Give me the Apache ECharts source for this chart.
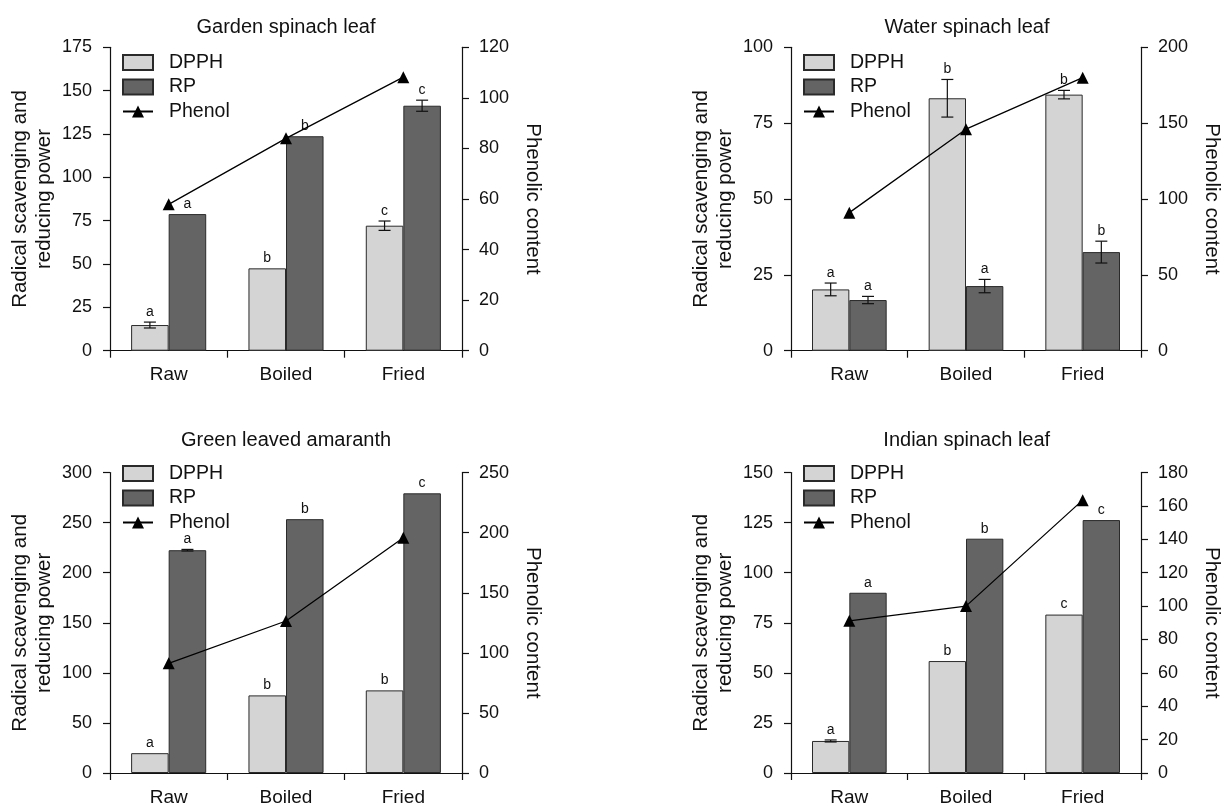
<!DOCTYPE html>
<html>
<head>
<meta charset="utf-8">
<script src="https://cdn.jsdelivr.net/npm/echarts@6/dist/echarts.min.js"></script>
<style>
html,body{margin:0;padding:0;background:#fff;}
#chart{width:1223px;height:807px;}
</style>
</head>
<body>
<div id="chart"></div>
<script>
// ---------- data ----------
const categories = ['Raw', 'Boiled', 'Fried'];
const panelTitles = ['Garden spinach leaf', 'Water spinach leaf', 'Green leaved amaranth', 'Indian spinach leaf'];
const seriesNames = ['DPPH', 'RP', 'Phenol'];

const gardenDPPH = [14.8, 47.5, 72.1];
const gardenDPPHErr = [1.7, 0, 2.7];
const gardenRP = [78.8, 123.7, 141.3];
const gardenRPErr = [0, 0, 3.2];
const gardenPhenol = [57.9, 84.0, 108.2];
const gardenDPPHLetters = ['a', 'b', 'c'];
const gardenRPLetters = ['a', 'b', 'c'];

const waterDPPH = [20.2, 83.2, 84.4];
const waterDPPHErr = [2.1, 6.2, 1.4];
const waterRP = [16.7, 21.3, 32.5];
const waterRPErr = [1.2, 2.2, 3.6];
const waterPhenol = [91.0, 146.0, 180.0];
const waterDPPHLetters = ['a', 'b', 'b'];
const waterRPLetters = ['a', 'a', 'b'];

const amaranthDPPH = [19.8, 77.5, 82.5];
const amaranthDPPHErr = [0, 0, 0];
const amaranthRP = [222.5, 253.5, 279.3];
const amaranthRPErr = [0.8, 0, 0];
const amaranthPhenol = [91.3, 126.5, 195.8];
const amaranthDPPHLetters = ['a', 'b', 'b'];
const amaranthRPLetters = ['a', 'b', 'c'];

const indianDPPH = [16.0, 55.9, 79.1];
const indianDPPHErr = [0.5, 0, 0];
const indianRP = [90.0, 117.0, 126.3];
const indianRPErr = [0, 0, 0];
const indianPhenol = [91.2, 100.0, 163.5];
const indianDPPHLetters = ['a', 'b', 'c'];
const indianRPLetters = ['a', 'b', 'c'];

// axis scales [max, interval]
const leftAxisMax = [175, 100, 300, 150];
const leftAxisInterval = [25, 25, 50, 25];
const rightAxisMax = [120, 200, 250, 180];
const rightAxisInterval = [20, 50, 50, 20];

const panels = [
  {dpph: gardenDPPH, dErr: gardenDPPHErr, rp: gardenRP, rErr: gardenRPErr, ph: gardenPhenol, dL: gardenDPPHLetters, rL: gardenRPLetters},
  {dpph: waterDPPH, dErr: waterDPPHErr, rp: waterRP, rErr: waterRPErr, ph: waterPhenol, dL: waterDPPHLetters, rL: waterRPLetters},
  {dpph: amaranthDPPH, dErr: amaranthDPPHErr, rp: amaranthRP, rErr: amaranthRPErr, ph: amaranthPhenol, dL: amaranthDPPHLetters, rL: amaranthRPLetters},
  {dpph: indianDPPH, dErr: indianDPPHErr, rp: indianRP, rErr: indianRPErr, ph: indianPhenol, dL: indianDPPHLetters, rL: indianRPLetters}
];

// ---------- layout / style ----------
const FONT = '"Liberation Sans", Arial, Helvetica, sans-serif';
const INK = '#111';
const gridBoxes = [
  {left: 110, top: 47.3, width: 352, height: 303.4},
  {left: 791, top: 47.3, width: 352, height: 303.4},
  {left: 110, top: 472.6, width: 352, height: 301.8},
  {left: 791, top: 472.6, width: 351.5, height: 301.8}
];
const titleY = [17.5, 17.5, 430, 430];
const legendTop = [52.5, 52.5, 463.5, 463.5];
const BAR_GAP_CAT = 0.36;
const DPPH_COLOR = '#d4d4d4';
const RP_COLOR = '#646464';

function errRenderer(values, errs, letters, side) {
  return function (params, api) {
    const i = params.dataIndex;
    const v = values[i], e = errs[i];
    const band = api.size([1, 0])[0];
    const bw = band * (1 - BAR_GAP_CAT) / 2;
    const c = api.coord([i, v]);
    const x = c[0] + side * bw / 2;
    const yTop = api.coord([i, v + e])[1];
    const yBot = api.coord([i, v - e])[1];
    const children = [];
    const ls = {stroke: INK, lineWidth: 1.2};
    if (e > 0) {
      children.push({type: 'line', shape: {x1: x, y1: yTop, x2: x, y2: yBot}, style: ls});
      children.push({type: 'line', shape: {x1: x - 6, y1: yTop, x2: x + 6, y2: yTop}, style: ls});
      children.push({type: 'line', shape: {x1: x - 6, y1: yBot, x2: x + 6, y2: yBot}, style: ls});
    }
    children.push({type: 'text', style: {x: x, y: yTop - 3, text: letters[i], fill: INK,
      font: '14px ' + FONT, textAlign: 'center', textVerticalAlign: 'bottom', align: 'center', verticalAlign: 'bottom'}});
    return {type: 'group', children: children};
  };
}

const option = {
  animation: false,
  backgroundColor: '#fff',
  textStyle: {fontFamily: FONT, color: INK},
  title: [], grid: [], xAxis: [], yAxis: [], legend: [], series: []
};

panels.forEach(function (p, g) {
  const gb = gridBoxes[g];
  option.title.push({
    text: panelTitles[g], left: gb.left + gb.width / 2, top: titleY[g], textAlign: 'center', padding: 0,
    textStyle: {fontFamily: FONT, fontSize: 20, fontWeight: 'normal', color: INK}
  });
  option.grid.push({left: gb.left, top: gb.top, width: gb.width, height: gb.height, containLabel: false});
  option.xAxis.push({
    type: 'category', gridIndex: g, data: categories,
    axisLine: {lineStyle: {color: INK, width: 1.2}},
    axisTick: {show: true, length: 7, lineStyle: {color: INK, width: 1.2}},
    axisLabel: {fontFamily: FONT, fontSize: 19, color: INK, margin: 15},
    splitLine: {show: false}
  });
  option.yAxis.push({
    type: 'value', gridIndex: g, position: 'left', min: 0, max: leftAxisMax[g], interval: leftAxisInterval[g],
    name: 'Radical scavenging and\nreducing power', nameLocation: 'middle', nameGap: 54,
    nameTextStyle: {fontFamily: FONT, fontSize: 20.5, color: INK, lineHeight: 24},
    axisLine: {show: true, lineStyle: {color: INK, width: 1.2}},
    axisTick: {show: true, length: 7, lineStyle: {color: INK, width: 1.2}},
    axisLabel: {fontFamily: FONT, fontSize: 18, color: INK, margin: 18},
    splitLine: {show: false}
  });
  option.yAxis.push({
    type: 'value', gridIndex: g, position: 'right', min: 0, max: rightAxisMax[g], interval: rightAxisInterval[g],
    name: 'Phenolic content', nameLocation: 'middle', nameGap: 60, nameRotate: -90,
    nameTextStyle: {fontFamily: FONT, fontSize: 20.5, color: INK},
    axisLine: {show: true, lineStyle: {color: INK, width: 1.2}},
    axisTick: {show: true, length: 7, lineStyle: {color: INK, width: 1.2}},
    axisLabel: {fontFamily: FONT, fontSize: 18, color: INK, margin: 17},
    splitLine: {show: false}
  });
  option.legend.push({
    orient: 'vertical', left: gb.left + 12, top: legendTop[g], padding: 0,
    itemWidth: 30, itemHeight: 15, itemGap: 4.5,
    data: [{name: seriesNames[0], icon: 'rect'}, {name: seriesNames[1], icon: 'rect'}, {name: seriesNames[2]}],
    textStyle: {fontFamily: FONT, fontSize: 19.5, color: INK, padding: [0, 0, 0, 11]},
    selectedMode: false
  });
  const xi = g, yl = 2 * g, yr = 2 * g + 1;
  option.series.push({
    name: 'DPPH', type: 'bar', xAxisIndex: xi, yAxisIndex: yl, data: p.dpph,
    barGap: '0%', barCategoryGap: '36%',
    itemStyle: {color: DPPH_COLOR, borderColor: '#2a2a2a', borderWidth: 1}
  });
  option.series.push({
    name: 'RP', type: 'bar', xAxisIndex: xi, yAxisIndex: yl, data: p.rp,
    barGap: '0%', barCategoryGap: '36%',
    itemStyle: {color: RP_COLOR, borderColor: '#2a2a2a', borderWidth: 1}
  });
  option.series.push({
    name: 'errDPPH' + g, type: 'custom', xAxisIndex: xi, yAxisIndex: yl, z: 5,
    data: p.dpph.map(function (v, i) { return [i, v]; }),
    renderItem: errRenderer(p.dpph, p.dErr, p.dL, -1), silent: true
  });
  option.series.push({
    name: 'errRP' + g, type: 'custom', xAxisIndex: xi, yAxisIndex: yl, z: 5,
    data: p.rp.map(function (v, i) { return [i, v]; }),
    renderItem: errRenderer(p.rp, p.rErr, p.rL, 1), silent: true
  });
  option.series.push({
    name: 'Phenol', type: 'line', xAxisIndex: xi, yAxisIndex: yr, data: p.ph, z: 6,
    symbol: 'triangle', symbolSize: 12,
    lineStyle: {color: '#000', width: 1.3},
    itemStyle: {color: '#000'}
  });
});

const chart = echarts.init(document.getElementById('chart'), null, {renderer: 'canvas'});
chart.setOption(option);
</script>
</body>
</html>
